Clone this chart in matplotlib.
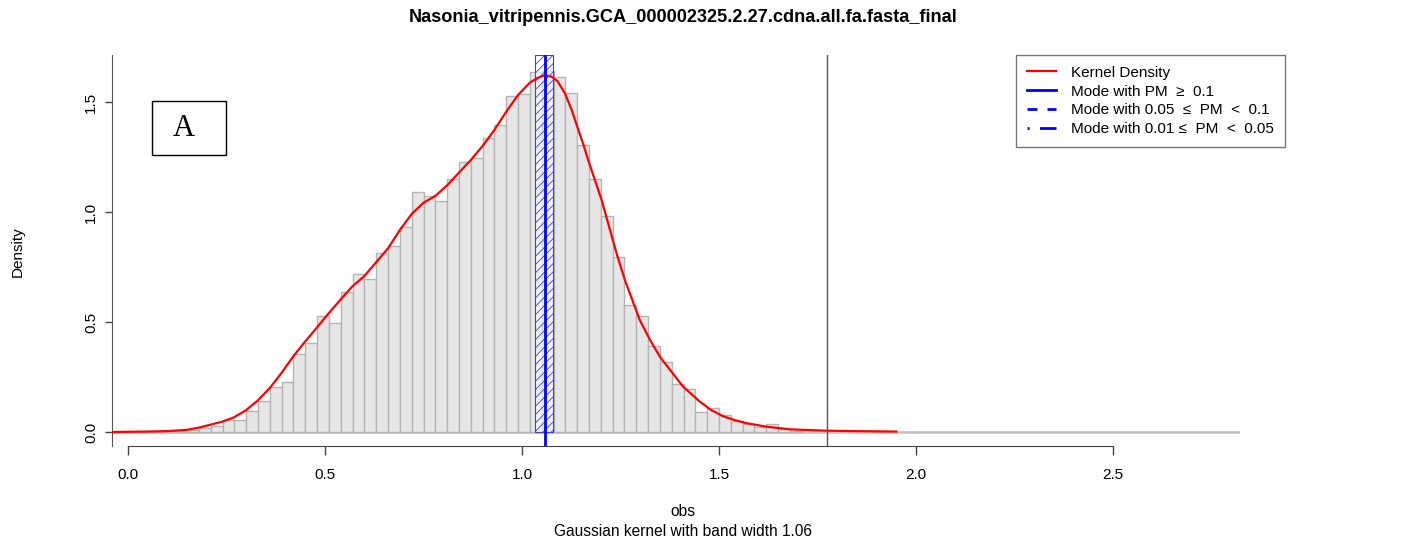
import numpy as np
import matplotlib
matplotlib.use('Agg')
import matplotlib.pyplot as plt
from matplotlib.lines import Line2D
from matplotlib.patches import Rectangle

plt.rcParams['font.family'] = ['Liberation Sans', 'DejaVu Sans']
plt.rcParams['lines.scale_dashes'] = False

# Histogram of obs: bins of width 0.03 starting at 0.0, density heights
BIN_START = 0.0
BIN_WIDTH = 0.03
bar_heights = [0.000, 0.001, 0.002, 0.003, 0.004, 0.008, 0.018, 0.027, 0.055,
               0.055, 0.097, 0.143, 0.206, 0.226, 0.355, 0.403, 0.527, 0.494,
               0.638, 0.718, 0.694, 0.812, 0.845, 0.933, 1.092, 1.073, 1.048,
               1.148, 1.226, 1.244, 1.336, 1.394, 1.529, 1.536, 1.635, 1.640,
               1.615, 1.539, 1.303, 1.152, 0.983, 0.794, 0.579, 0.528, 0.391,
               0.320, 0.216, 0.196, 0.093, 0.111, 0.076, 0.052, 0.035, 0.024,
               0.035, 0.013, 0.004]

# Kernel density curve
kde_x = [-0.04, 0.00, 0.05, 0.10, 0.15, 0.183, 0.239, 0.267, 0.298, 0.328,
         0.359, 0.389, 0.420, 0.449, 0.480, 0.509, 0.540, 0.569, 0.600, 0.629,
         0.660, 0.690, 0.720, 0.750, 0.780, 0.810, 0.840, 0.870, 0.900, 0.930,
         0.960, 0.990, 1.020, 1.040, 1.058, 1.075, 1.090, 1.109, 1.126, 1.143,
         1.156, 1.168, 1.185, 1.202, 1.220, 1.240, 1.261, 1.283, 1.299, 1.325,
         1.350, 1.376, 1.409, 1.450, 1.480, 1.510, 1.540, 1.570, 1.621, 1.681,
         1.773, 1.850, 1.950]
kde_y = [0.000, 0.001, 0.002, 0.004, 0.010, 0.021, 0.047, 0.065, 0.097, 0.141,
         0.198, 0.267, 0.345, 0.410, 0.476, 0.539, 0.603, 0.661, 0.709, 0.770,
         0.835, 0.918, 0.991, 1.042, 1.073, 1.121, 1.179, 1.236, 1.300, 1.373,
         1.456, 1.532, 1.588, 1.610, 1.622, 1.615, 1.595, 1.539, 1.464, 1.373,
         1.305, 1.236, 1.145, 1.055, 0.940, 0.812, 0.691, 0.585, 0.509, 0.418,
         0.342, 0.282, 0.206, 0.140, 0.100, 0.072, 0.054, 0.040, 0.024, 0.012,
         0.006, 0.004, 0.002]

MODE = 1.058            # mode with PM >= 0.1
MODE_BAND = (1.032, 1.078)
CUTOFF = 1.774          # right vertical line
X_TICKS = [0.0, 0.5, 1.0, 1.5, 2.0, 2.5]
Y_TICKS = [0.0, 0.5, 1.0, 1.5]

TITLE = 'Nasonia_vitripennis.GCA_000002325.2.27.cdna.all.fa.fasta_final'

W, H = 1413, 542
fig = plt.figure(figsize=(W / 100, H / 100), dpi=100)
# plot region in pixels: x 112..1240, y 55..446
ax = fig.add_axes([112 / W, (H - 446) / H, 1128 / W, 391 / H])
ax.set_xlim(-0.0406, 2.8223)
ax.set_ylim(-0.0636, 1.7136)

# histogram bars
edges = BIN_START + BIN_WIDTH * np.arange(len(bar_heights))
ax.bar(edges, bar_heights, width=BIN_WIDTH, align='edge', color='#e6e6e6',
       edgecolor='#b4b4b4', linewidth=1.0, zorder=2)
ax.plot([-0.0406, 2.8223], [0, 0], color='#c0c0c0', lw=1.8, zorder=1)

# density curve
ax.plot(kde_x, kde_y, color='#ff0000', lw=1.6, zorder=5)

# mode band (hatched) and mode line
plt.rcParams['hatch.linewidth'] = 0.6
ax.add_patch(Rectangle((MODE_BAND[0], 0), MODE_BAND[1] - MODE_BAND[0], 1.7136,
                       facecolor=(1, 1, 1, 0.6), edgecolor='#3a3aff',
                       hatch='////', lw=0.8, zorder=4))
ax.axvline(MODE, color='#0000ff', lw=2.0, zorder=6)
ax.axvline(CUTOFF, color='#555555', lw=1.0, zorder=3)

# axes, R style
for s in ['top', 'right']:
    ax.spines[s].set_visible(False)
ax.spines['left'].set_color('#555555')
ax.spines['bottom'].set_color('#444444')
ax.spines['bottom'].set_bounds(X_TICKS[0], X_TICKS[-1])
ax.set_xticks(X_TICKS)
ax.set_xticklabels(['%.1f' % t for t in X_TICKS])
ax.set_yticks(Y_TICKS)
ax.set_yticklabels(['%.1f' % t for t in Y_TICKS], rotation=90, va='center')
ax.tick_params(axis='x', length=6.5, width=1, color='#444444', pad=9,
               labelsize=11)
ax.tick_params(axis='y', length=5, width=1, color='#444444', pad=5,
               labelsize=11)

fig.text(683 / W, 1 - 18 / H, TITLE, ha='center', va='center',
         fontsize=13.1, fontweight='bold')
fig.text(683 / W, 1 - 512 / H, 'obs', ha='center', va='center', fontsize=11.2)
fig.text(683 / W, 1 - 531 / H, 'Gaussian kernel with band width 1.06',
         ha='center', va='center', fontsize=11.2)
fig.text(18 / W, 1 - 252 / H, 'Density', ha='center', va='center',
         rotation=90, fontsize=11)

# panel letter box
fig.add_artist(Rectangle((152 / W, 1 - 155 / H), 74 / W, 54 / H,
                         transform=fig.transFigure, fill=False,
                         edgecolor='black', lw=1.0))
fig.text(183.5 / W, 1 - 128 / H, 'A', ha='center', va='center',
         fontsize=22, family=['Liberation Serif', 'DejaVu Serif'])

# legend
handles = [
    Line2D([], [], color='#ff0000', lw=1.6),
    Line2D([], [], color='#0000ff', lw=2.0),
    Line2D([], [], color='#0000ff', lw=2.0, linestyle=(0, (7.2, 7.2))),
    Line2D([], [], color='#0000ff', lw=2.0, linestyle=(0, (1.5, 7.5, 12, 4))),
]
labels = ['Kernel Density', 'Mode with PM  \u2265  0.1',
          'Mode with 0.05  \u2264  PM  <  0.1',
          'Mode with 0.01 \u2264  PM  <  0.05']
leg = fig.legend(handles, labels, loc='upper left',
                 bbox_to_anchor=(1016 / W, 1 - 55 / H), fontsize=11,
                 frameon=True, fancybox=False, edgecolor='#555555',
                 borderpad=0.7, labelspacing=0.32, handlelength=1.95,
                 handletextpad=0.95, borderaxespad=0)
leg.get_frame().set_linewidth(1.0)

fig.savefig('out.png', dpi=100)
